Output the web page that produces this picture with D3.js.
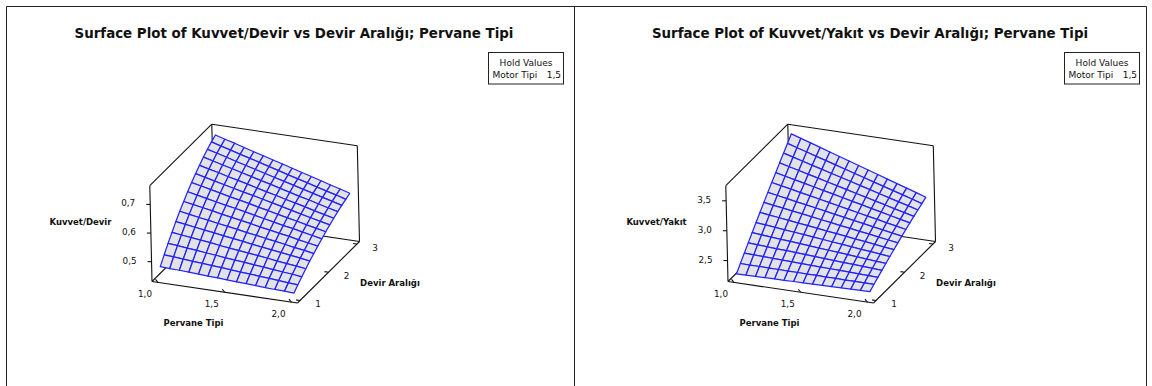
<!DOCTYPE html>
<html>
<head>
<meta charset="utf-8">
<script src="https://cdn.jsdelivr.net/npm/d3@7"></script>
<style>
  body { margin: 0; background: #fff; }
  svg { display: block; }
  text { font-family: "DejaVu Sans", Verdana, sans-serif; fill: #111; }
</style>
</head>
<body>
<svg id="chart" width="1152" height="386"></svg>
<script>
// Mesh positions of the two factors
const pervaneGrid = [1.000, 1.071, 1.143, 1.214, 1.286, 1.357, 1.429, 1.500, 1.571, 1.643, 1.714, 1.786, 1.857, 1.929, 2.000];
const devirGrid   = [1.000, 1.143, 1.286, 1.429, 1.571, 1.714, 1.857, 2.000, 2.143, 2.286, 2.429, 2.571, 2.714, 2.857, 3.000];

// Axis ticks
const pervaneTicks = [1.0, 1.5, 2.0];
const devirTicks = [1, 2, 3];
const kuvvetDevirTicks = [0.5, 0.6, 0.7];
const kuvvetYakitTicks = [2.5, 3.0, 3.5];

// Fitted response, one row per Devir Aralığı mesh value, columns follow pervaneGrid
const kuvvetDevir = [
  [0.477, 0.475, 0.474, 0.472, 0.470, 0.468, 0.467, 0.465, 0.463, 0.462, 0.460, 0.458, 0.456, 0.455, 0.453],
  [0.504, 0.502, 0.499, 0.496, 0.494, 0.491, 0.489, 0.486, 0.483, 0.481, 0.478, 0.476, 0.473, 0.470, 0.468],
  [0.530, 0.527, 0.523, 0.520, 0.516, 0.513, 0.509, 0.506, 0.503, 0.499, 0.496, 0.492, 0.489, 0.486, 0.482],
  [0.554, 0.550, 0.546, 0.542, 0.538, 0.533, 0.529, 0.525, 0.521, 0.517, 0.513, 0.508, 0.504, 0.500, 0.496],
  [0.578, 0.573, 0.568, 0.563, 0.558, 0.553, 0.548, 0.543, 0.538, 0.533, 0.528, 0.524, 0.519, 0.514, 0.509],
  [0.600, 0.594, 0.588, 0.583, 0.577, 0.572, 0.566, 0.560, 0.555, 0.549, 0.544, 0.538, 0.532, 0.527, 0.521],
  [0.620, 0.614, 0.608, 0.602, 0.595, 0.589, 0.583, 0.577, 0.570, 0.564, 0.558, 0.552, 0.545, 0.539, 0.533],
  [0.640, 0.633, 0.626, 0.619, 0.612, 0.606, 0.599, 0.592, 0.585, 0.578, 0.571, 0.565, 0.558, 0.551, 0.544],
  [0.658, 0.651, 0.643, 0.636, 0.628, 0.621, 0.614, 0.606, 0.599, 0.591, 0.584, 0.577, 0.569, 0.562, 0.555],
  [0.675, 0.667, 0.659, 0.651, 0.643, 0.635, 0.628, 0.620, 0.612, 0.604, 0.596, 0.588, 0.580, 0.572, 0.565],
  [0.690, 0.682, 0.674, 0.665, 0.657, 0.649, 0.640, 0.632, 0.624, 0.615, 0.607, 0.599, 0.590, 0.582, 0.574],
  [0.705, 0.696, 0.687, 0.679, 0.670, 0.661, 0.652, 0.644, 0.635, 0.626, 0.617, 0.609, 0.600, 0.591, 0.583],
  [0.718, 0.709, 0.700, 0.690, 0.681, 0.672, 0.663, 0.654, 0.645, 0.636, 0.627, 0.618, 0.609, 0.600, 0.591],
  [0.730, 0.720, 0.711, 0.701, 0.692, 0.683, 0.673, 0.664, 0.654, 0.645, 0.636, 0.626, 0.617, 0.608, 0.598],
  [0.740, 0.730, 0.721, 0.711, 0.701, 0.692, 0.682, 0.673, 0.663, 0.653, 0.644, 0.634, 0.624, 0.615, 0.605]
];

const kuvvetYakit = [
  [2.249, 2.251, 2.254, 2.256, 2.259, 2.261, 2.264, 2.266, 2.268, 2.271, 2.273, 2.276, 2.278, 2.281, 2.283],
  [2.356, 2.354, 2.353, 2.351, 2.350, 2.348, 2.347, 2.345, 2.344, 2.342, 2.341, 2.339, 2.338, 2.337, 2.335],
  [2.461, 2.456, 2.451, 2.445, 2.440, 2.434, 2.429, 2.424, 2.418, 2.413, 2.408, 2.402, 2.397, 2.392, 2.386],
  [2.566, 2.557, 2.547, 2.538, 2.529, 2.520, 2.510, 2.501, 2.492, 2.482, 2.473, 2.464, 2.455, 2.445, 2.436],
  [2.669, 2.656, 2.643, 2.630, 2.617, 2.604, 2.590, 2.577, 2.564, 2.551, 2.538, 2.525, 2.511, 2.498, 2.485],
  [2.772, 2.755, 2.738, 2.721, 2.704, 2.687, 2.670, 2.653, 2.635, 2.618, 2.601, 2.584, 2.567, 2.550, 2.533],
  [2.874, 2.853, 2.832, 2.811, 2.790, 2.769, 2.748, 2.727, 2.706, 2.685, 2.664, 2.643, 2.622, 2.601, 2.580],
  [2.974, 2.949, 2.924, 2.899, 2.875, 2.850, 2.825, 2.800, 2.775, 2.750, 2.725, 2.701, 2.676, 2.651, 2.626],
  [3.074, 3.045, 3.016, 2.987, 2.959, 2.930, 2.901, 2.872, 2.843, 2.815, 2.786, 2.757, 2.728, 2.700, 2.671],
  [3.172, 3.139, 3.107, 3.074, 3.042, 3.009, 2.976, 2.944, 2.911, 2.878, 2.846, 2.813, 2.780, 2.748, 2.715],
  [3.269, 3.233, 3.196, 3.160, 3.123, 3.087, 3.050, 3.014, 2.977, 2.941, 2.904, 2.867, 2.831, 2.794, 2.758],
  [3.366, 3.325, 3.285, 3.245, 3.204, 3.164, 3.123, 3.083, 3.042, 3.002, 2.961, 2.921, 2.880, 2.840, 2.800],
  [3.461, 3.417, 3.372, 3.328, 3.284, 3.239, 3.195, 3.151, 3.106, 3.062, 3.018, 2.973, 2.929, 2.885, 2.840],
  [3.556, 3.507, 3.459, 3.411, 3.363, 3.314, 3.266, 3.218, 3.170, 3.121, 3.073, 3.025, 2.977, 2.928, 2.880],
  [3.649, 3.597, 3.545, 3.493, 3.440, 3.388, 3.336, 3.284, 3.232, 3.180, 3.128, 3.075, 3.023, 2.971, 2.919]
];

const holdFactor = "Motor Tipi";
const holdValue = "1,5";

const trLocale = d3.formatLocale({ decimal: ",", thousands: ".", grouping: [3], currency: ["", " TL"] });
const fmt1 = trLocale.format(".1f");
const fmt0 = trLocale.format("d");

const panels = [
  { title: "Surface Plot of Kuvvet/Devir vs Devir Aralığı; Pervane Tipi", zLabel: "Kuvvet/Devir",
    values: kuvvetDevir, zTicks: kuvvetDevirTicks, zDomain: [0.4306, 0.7656], dx: 0 },
  { title: "Surface Plot of Kuvvet/Yakıt vs Devir Aralığı; Pervane Tipi", zLabel: "Kuvvet/Yakıt",
    values: kuvvetYakit, zTicks: kuvvetYakitTicks, zDomain: [2.150, 3.753], dx: 576 }
];

const svg = d3.select("#chart");

// Outer frames of the two graph windows
const frame = svg.append("g").attr("fill", "none").attr("stroke", "#222").attr("stroke-width", 1);
frame.append("path").attr("d", "M6.5,400V6.5H1146.5V400");
frame.append("path").attr("d", "M574.5,6.5V400");

// Oblique box projection: origin and the three box edge vectors in pixels
const O = [152, 281.5], EX = [145.5, 21.5], EY = [62, -61.5], EZ = [-2.2, -95.8];
const xs = d3.scaleLinear().domain([0.955, 2.045]).range([0, 1]);
const ys = d3.scaleLinear().domain([0.91, 3.09]).range([0, 1]);

panels.forEach(p => {
  const g = svg.append("g").attr("transform", `translate(${p.dx},0)`);
  const zs = d3.scaleLinear().domain(p.zDomain).range([0, 1]);
  const proj = (u, v, w) => [O[0] + u * EX[0] + v * EY[0] + w * EZ[0], O[1] + u * EX[1] + v * EY[1] + w * EZ[1]];
  const line = d3.line();
  const seg = (sel, a, b) => sel.append("path").attr("d", line([proj(...a), proj(...b)]));

  // Title
  g.append("text").attr("x", 294).attr("y", 38).attr("text-anchor", "middle")
    .attr("font-weight", "bold").attr("font-size", "13.4px").text(p.title);

  // Hold values box
  g.append("rect").attr("x", 488.5).attr("y", 52.5).attr("width", 75).attr("height", 31.5)
    .attr("fill", "#fff").attr("stroke", "#222");
  g.append("text").attr("x", 526).attr("y", 65.5).attr("text-anchor", "middle")
    .attr("font-size", "9px").text("Hold Values");
  g.append("text").attr("x", 492.5).attr("y", 77.5).attr("font-size", "9px").text(holdFactor);
  g.append("text").attr("x", 561).attr("y", 77.5).attr("text-anchor", "end").attr("font-size", "9px").text(holdValue);

  // Rear box edges (behind the surface)
  const back = g.append("g").attr("fill", "none").attr("stroke", "#111").attr("stroke-width", 1.1);
  seg(back, [0, 0, 0], [0, 1, 0]);
  seg(back, [0, 1, 0], [1, 1, 0]);
  seg(back, [0, 1, 0], [0, 1, 1]);
  seg(back, [0, 0, 1], [0, 1, 1]);
  seg(back, [0, 1, 1], [1, 1, 1]);
  seg(back, [1, 1, 0], [1, 1, 1]);

  // Surface mesh, painted from far to near
  const quads = [];
  for (let j = 0; j < devirGrid.length - 1; j++) {
    for (let i = 0; i < pervaneGrid.length - 1; i++) {
      const corners = [[i, j], [i + 1, j], [i + 1, j + 1], [i, j + 1]];
      const pts = corners.map(([a, b]) => proj(xs(pervaneGrid[a]), ys(devirGrid[b]), zs(p.values[b][a])));
      const uc = xs((pervaneGrid[i] + pervaneGrid[i + 1]) / 2);
      const vc = ys((devirGrid[j] + devirGrid[j + 1]) / 2);
      quads.push({ pts, depth: O[1] + uc * EX[1] + vc * EY[1] });
    }
  }
  quads.sort((a, b) => a.depth - b.depth);
  g.append("g").selectAll("path").data(quads).join("path")
    .attr("d", d => line(d.pts) + "Z")
    .attr("fill", "#e3e3e3")
    .attr("stroke", "#2222ff")
    .attr("stroke-width", 1.25)
    .attr("stroke-linejoin", "round");

  // Front box edges / axes
  const front = g.append("g").attr("fill", "none").attr("stroke", "#111").attr("stroke-width", 1.1);
  seg(front, [0, 0, 0], [1, 0, 0]);
  seg(front, [1, 0, 0], [1, 1, 0]);
  seg(front, [0, 0, 0], [0, 0, 1]);

  // Z axis ticks and labels
  p.zTicks.forEach(t => {
    const q = proj(0, 0, zs(t));
    front.append("path").attr("d", line([q, [q[0] - 4, q[1]]]));
    g.append("text").attr("x", q[0] - 15).attr("y", q[1] + 2).attr("text-anchor", "end")
      .attr("font-size", "8.8px").text(fmt1(t));
  });
  // Pervane Tipi ticks and labels
  pervaneTicks.forEach(t => {
    const q = proj(xs(t), 0, 0);
    front.append("path").attr("d", line([q, [q[0] - 2.5, q[1] - 3]]));
    g.append("text").attr("x", q[0] - 13).attr("y", q[1] + 15).attr("text-anchor", "middle")
      .attr("font-size", "8.8px").text(fmt1(t));
  });
  // Devir Aralığı ticks and labels
  devirTicks.forEach(t => {
    const q = proj(1, ys(t), 0);
    front.append("path").attr("d", line([q, [q[0] - 4, q[1] - 0.6]]));
    g.append("text").attr("x", q[0] + 18).attr("y", q[1] + 6.5).attr("text-anchor", "middle")
      .attr("font-size", "8.8px").text(fmt0(t));
  });

  // Axis titles
  g.append("text").attr("x", 80.5).attr("y", 225).attr("text-anchor", "middle")
    .attr("font-weight", "bold").attr("font-size", "8.5px").text(p.zLabel);
  g.append("text").attr("x", 193.5).attr("y", 326).attr("text-anchor", "middle")
    .attr("font-weight", "bold").attr("font-size", "8.5px").text("Pervane Tipi");
  g.append("text").attr("x", 390).attr("y", 286).attr("text-anchor", "middle")
    .attr("font-weight", "bold").attr("font-size", "8.5px").text("Devir Aralığı");
});
</script>
</body>
</html>
